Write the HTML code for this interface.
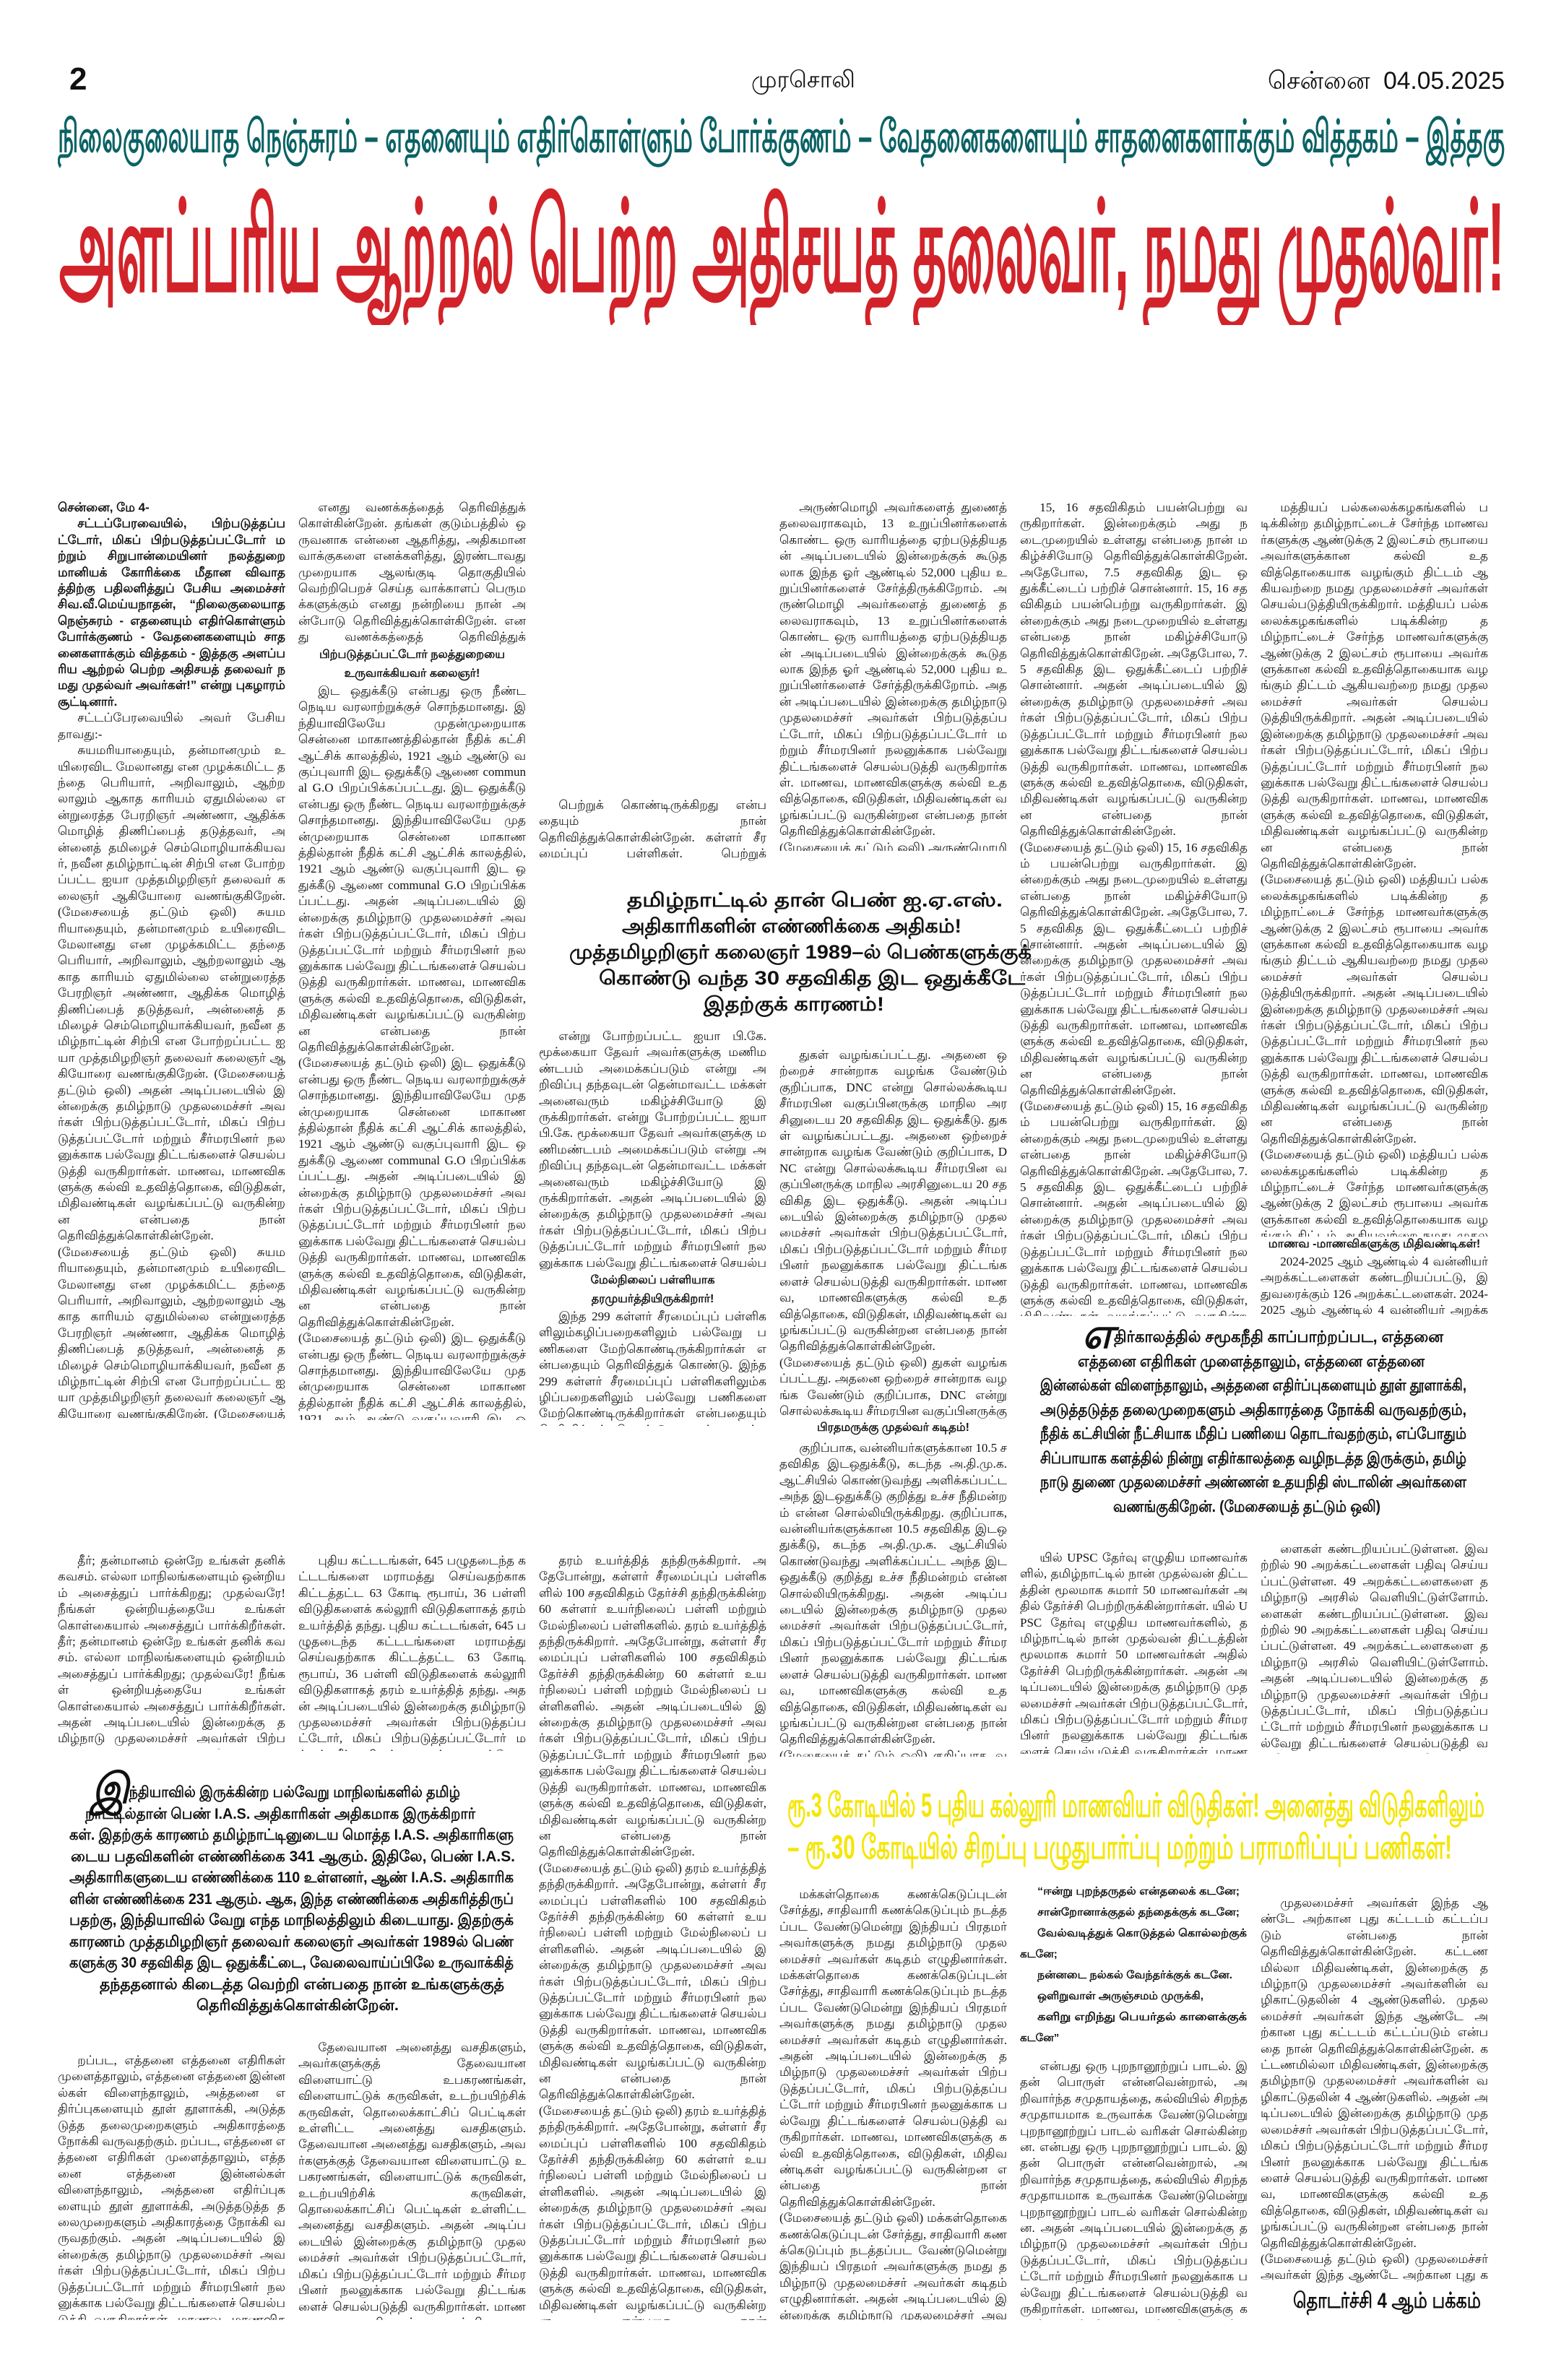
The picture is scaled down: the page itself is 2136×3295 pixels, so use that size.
<!DOCTYPE html>
<html><head><meta charset="utf-8">
<style>
html,body{margin:0;padding:0;background:#fff}
body{width:2136px;height:3295px;position:relative;overflow:hidden;font-family:"Liberation Sans","DejaVu Sans",sans-serif;color:#111}
.a{position:absolute}
.t{position:absolute;width:315px;overflow:hidden;font-size:17px;line-height:22.4px;text-align:justify;text-align-last:left;word-break:break-all;font-family:"Liberation Serif","DejaVu Serif",serif}
.t p{margin:0;text-indent:1.6em}
.b{font-weight:bold;font-family:"Liberation Sans",sans-serif}
.sh{position:absolute;width:315px;text-align:center;font-weight:bold;font-size:16px;line-height:26px;white-space:nowrap}
.fit{white-space:nowrap;transform-origin:left top;display:inline-block}
.box{position:absolute;text-align:center;font-weight:bold;font-size:22px}
.box div{white-space:nowrap}
.dc{font-size:58px;font-weight:bold;font-style:italic;vertical-align:-8px}
.pm div{white-space:nowrap;overflow:hidden}
</style></head><body>

<div class="a" style="left:96px;top:88px;font-size:44px;font-weight:bold;line-height:44px">2</div>
<div class="a" style="left:1040px;top:90px;font-size:32px;line-height:40px">முரசொலி</div>
<div class="a" style="left:1755px;top:92px;width:328px;font-size:34px;line-height:40px;text-align:right"><span class="fit" data-w="328">சென்னை&nbsp; 04.05.2025</span></div>

<div class="a" style="left:80px;top:150px;width:2003px;height:84px;overflow:hidden;color:#0b6265;font-weight:bold;font-size:62px;line-height:80px"><span class="fit" data-w="2003">நிலைகுலையாத நெஞ்சுரம் – எதனையும் எதிர்கொள்ளும் போர்க்குணம் – வேதனைகளையும் சாதனைகளாக்கும் வித்தகம் – இத்தகு</span></div>

<div class="a" style="left:82px;top:240px;width:2001px;height:210px;overflow:hidden;color:#d2232a;font-weight:bold;font-size:175px;line-height:205px"><span class="fit" data-w="2001">அளப்பரிய ஆற்றல் பெற்ற அதிசயத் தலைவர், நமது முதல்வர்!</span></div>

<!-- Section 1 -->
<div class="t" style="left:80px;top:692px;height:1272px">
<div class="b" style="text-align:right;font-size:17px">சென்னை, மே 4-</div>
<p class="b">சட்டப்பேரவையில், பிற்படுத்தப்பட்டோர், மிகப் பிற்படுத்தப்பட்டோர் மற்றும் சிறுபான்மையினர் நலத்துறை மானியக் கோரிக்கை மீதான விவாதத்திற்கு பதிலளித்துப் பேசிய அமைச்சர் சிவ.வீ.மெய்யநாதன், “நிலைகுலையாத நெஞ்சுரம் - எதனையும் எதிர்கொள்ளும் போர்க்குணம் - வேதனைகளையும் சாதனைகளாக்கும் வித்தகம் - இத்தகு அளப்பரிய ஆற்றல் பெற்ற அதிசயத் தலைவர் நமது முதல்வர் அவர்கள்!” என்று புகழாரம் சூட்டினார்.</p>
<p>சட்டப்பேரவையில் அவர் பேசியதாவது:-</p>
<p class="f">சுயமரியாதையும், தன்மானமும் உயிரைவிட மேலானது என முழக்கமிட்ட தந்தை பெரியார், அறிவாலும், ஆற்றலாலும் ஆகாத காரியம் ஏதுமில்லை என்றுரைத்த பேரறிஞர் அண்ணா, ஆதிக்க மொழித் திணிப்பைத் தடுத்தவர், அன்னைத் தமிழைச் செம்மொழியாக்கியவர், நவீன தமிழ்நாட்டின் சிற்பி என போற்றப்பட்ட ஐயா முத்தமிழறிஞர் தலைவர் கலைஞர் ஆகியோரை வணங்குகிறேன். (மேசையைத் தட்டும் ஒலி)</p>
</div>

<div class="t" style="left:413px;top:692px;height:204px"><p class="f">எனது வணக்கத்தைத் தெரிவித்துக் கொள்கின்றேன். தங்கள் குடும்பத்தில் ஒருவனாக என்னை ஆதரித்து, அதிகமான வாக்குகளை எனக்களித்து, இரண்டாவது முறையாக ஆலங்குடி தொகுதியில் வெற்றிபெறச் செய்த வாக்காளப் பெருமக்களுக்கும் எனது நன்றியை நான் அன்போடு தெரிவித்துக்கொள்கிறேன்.</p></div>
<div class="sh" style="left:413px;top:894px">பிற்படுத்தப்பட்டோர் நலத்துறையை<br>உருவாக்கியவர் கலைஞர்!</div>
<div class="t" style="left:413px;top:946px;height:1020px"><p class="f">இட ஒதுக்கீடு என்பது ஒரு நீண்ட நெடிய வரலாற்றுக்குச் சொந்தமானது. இந்தியாவிலேயே முதன்முறையாக சென்னை மாகாணத்தில்தான் நீதிக் கட்சி ஆட்சிக் காலத்தில், 1921 ஆம் ஆண்டு வகுப்புவாரி இட ஒதுக்கீடு ஆணை communal G.O பிறப்பிக்கப்பட்டது.</p></div>

<div class="t" style="left:746px;top:1104px;height:92px"><p class="f">பெற்றுக் கொண்டிருக்கிறது என்பதையும் நான் தெரிவித்துக்கொள்கின்றேன். கள்ளர் சீரமைப்புப் பள்ளிகள்.</p></div>
<div class="box" style="left:760px;top:1228px;width:650px;font-size:27px;line-height:36px">
<div><span class="fit" data-w="520">தமிழ்நாட்டில் தான் பெண் ஐ.ஏ.எஸ்.</span></div>
<div><span class="fit" data-w="470">அதிகாரிகளின் எண்ணிக்கை அதிகம்!</span></div>
<div><span class="fit" data-w="640">முத்தமிழறிஞர் கலைஞர் 1989–ல் பெண்களுக்குக்</span></div>
<div><span class="fit" data-w="590">கொண்டு வந்த 30 சதவிகித இட ஒதுக்கீடே</span></div>
<div><span class="fit" data-w="250">இதற்குக் காரணம்!</span></div>
</div>
<div class="t" style="left:746px;top:1424px;height:338px"><p class="f">என்று போற்றப்பட்ட ஐயா பி.கே. மூக்கையா தேவர் அவர்களுக்கு மணிமண்டபம் அமைக்கப்படும் என்று அறிவிப்பு தந்தவுடன் தென்மாவட்ட மக்கள் அனைவரும் மகிழ்ச்சியோடு இருக்கிறார்கள்.</p></div>
<div class="sh" style="left:746px;top:1760px">மேல்நிலைப் பள்ளியாக<br>தரமுயர்த்தியிருக்கிறார்!</div>
<div class="t" style="left:746px;top:1812px;height:162px"><p class="f">இந்த 299 கள்ளர் சீரமைப்புப் பள்ளிகளிலும்கழிப்பறைகளிலும் பல்வேறு பணிகளை மேற்கொண்டிருக்கிறார்கள் என்பதையும் தெரிவித்துக் கொண்டு.</p></div>

<div class="t" style="left:1079px;top:692px;height:486px"><p class="f">அருண்மொழி அவர்களைத் துணைத் தலைவராகவும், 13 உறுப்பினர்களைக் கொண்ட ஒரு வாரியத்தை ஏற்படுத்தியதன் அடிப்படையில் இன்றைக்குக் கூடுதலாக இந்த ஓர் ஆண்டில் 52,000 புதிய உறுப்பினர்களைச் சேர்த்திருக்கிறோம்.</p></div>
<div class="t" style="left:1079px;top:1450px;height:514px"><p class="f">துகள் வழங்கப்பட்டது. அதனை ஒற்றைச் சான்றாக வழங்க வேண்டும் குறிப்பாக, DNC என்று சொல்லக்கூடிய சீர்மரபின வகுப்பினருக்கு மாநில அரசினுடைய 20 சதவிகித இட ஒதுக்கீடு.</p></div>
<div class="sh" style="left:1079px;top:1964px">பிரதமருக்கு முதல்வர் கடிதம்!</div>
<div class="t" style="left:1079px;top:1994px;height:438px"><p class="f">குறிப்பாக, வன்னியர்களுக்கான 10.5 சதவிகித இடஒதுக்கீடு, கடந்த அ.தி.மு.க. ஆட்சியில் கொண்டுவந்து அளிக்கப்பட்ட அந்த இடஒதுக்கீடு குறித்து உச்ச நீதிமன்றம் என்ன சொல்லியிருக்கிறது.</p></div>

<div class="t" style="left:1412px;top:692px;height:1130px"><p class="f">15, 16 சதவிகிதம் பயன்பெற்று வருகிறார்கள். இன்றைக்கும் அது நடைமுறையில் உள்ளது என்பதை நான் மகிழ்ச்சியோடு தெரிவித்துக்கொள்கிறேன். அதேபோல, 7.5 சதவிகித இட ஒதுக்கீட்டைப் பற்றிச் சொன்னார்.</p></div>

<div class="t" style="left:1745px;top:692px;height:1020px"><p class="f">மத்தியப் பல்கலைக்கழகங்களில் படிக்கின்ற தமிழ்நாட்டைச் சேர்ந்த மாணவர்களுக்கு ஆண்டுக்கு 2 இலட்சம் ரூபாயை அவர்களுக்கான கல்வி உதவித்தொகையாக வழங்கும் திட்டம் ஆகியவற்றை நமது முதலமைச்சர் அவர்கள் செயல்படுத்தியிருக்கிறார்.</p></div>
<div class="sh" style="left:1745px;top:1710px">மாணவ -மாணவிகளுக்கு மிதிவண்டிகள்!</div>
<div class="t" style="left:1745px;top:1736px;height:88px"><p class="f">2024-2025 ஆம் ஆண்டில் 4 வன்னியர் அறக்கட்டளைகள் கண்டறியப்பட்டு, இதுவரைக்கும் 126 அறக்கட்டளைகள்.</p></div>

<div class="box" style="left:1440px;top:1830px;width:630px;line-height:33.5px;font-size:22px">
<div><span class="fit" data-w="500"><span class="dc">எ</span>திர்காலத்தில் சமூகநீதி காப்பாற்றப்பட, எத்தனை</span></div>
<div><span class="fit" data-w="480">எத்தனை எதிரிகள் முளைத்தாலும், எத்தனை எத்தனை</span></div>
<div><span class="fit" data-w="590">இன்னல்கள் விளைந்தாலும், அத்தனை எதிர்ப்புகளையும் தூள் தூளாக்கி,</span></div>
<div><span class="fit" data-w="590">அடுத்தடுத்த தலைமுறைகளும் அதிகாரத்தை நோக்கி வருவதற்கும்,</span></div>
<div><span class="fit" data-w="590">நீதிக் கட்சியின் நீட்சியாக மீதிப் பணியை தொடர்வதற்கும், எப்போதும்</span></div>
<div><span class="fit" data-w="590">சிப்பாயாக களத்தில் நின்று எதிர்காலத்தை வழிநடத்த இருக்கும், தமிழ்</span></div>
<div><span class="fit" data-w="590">நாடு துணை முதலமைச்சர் அண்ணன் உதயநிதி ஸ்டாலின் அவர்களை</span></div>
<div><span class="fit" data-w="370">வணங்குகிறேன். (மேசையைத் தட்டும் ஒலி)</span></div>
</div>

<!-- Section 2 -->
<div class="t" style="left:80px;top:2150px;height:272px"><p class="f">தீர்; தன்மானம் ஒன்றே உங்கள் தனிக் கவசம். எல்லா மாநிலங்களையும் ஒன்றியம் அசைத்துப் பார்க்கிறது; முதல்வரே! நீங்கள் ஒன்றியத்தையே உங்கள் கொள்கையால் அசைத்துப் பார்க்கிறீர்கள்.</p></div>
<div class="t" style="left:413px;top:2150px;height:274px"><p class="f">புதிய கட்டடங்கள், 645 பழுதடைந்த கட்டடங்களை மராமத்து செய்வதற்காக கிட்டத்தட்ட 63 கோடி ரூபாய், 36 பள்ளி விடுதிகளைக் கல்லூரி விடுதிகளாகத் தரம் உயர்த்தித் தந்து.</p></div>
<div class="t" style="left:746px;top:2150px;height:1062px"><p class="f">தரம் உயர்த்தித் தந்திருக்கிறார். அதேபோன்று, கள்ளர் சீரமைப்புப் பள்ளிகளில் 100 சதவிகிதம் தேர்ச்சி தந்திருக்கின்ற 60 கள்ளர் உயர்நிலைப் பள்ளி மற்றும் மேல்நிலைப் பள்ளிகளில்.</p></div>
<div class="t" style="left:1412px;top:2146px;height:282px"><p class="f">யில் UPSC தேர்வு எழுதிய மாணவர்களில், தமிழ்நாட்டில் நான் முதல்வன் திட்டத்தின் மூலமாக சுமார் 50 மாணவர்கள் அதில் தேர்ச்சி பெற்றிருக்கின்றார்கள்.</p></div>
<div class="t" style="left:1745px;top:2134px;height:294px"><p class="f">ளைகள் கண்டறியப்பட்டுள்ளன. இவற்றில் 90 அறக்கட்டளைகள் பதிவு செய்யப்பட்டுள்ளன. 49 அறக்கட்டளைகளை தமிழ்நாடு அரசில் வெளியிட்டுள்ளோம்.</p></div>

<div class="box" style="left:96px;top:2462px;width:620px;line-height:29.5px;font-size:21px">
<div><span class="fit" data-w="510"><span class="dc">இ</span>ந்தியாவில் இருக்கின்ற பல்வேறு மாநிலங்களில் தமிழ்</span></div>
<div><span class="fit" data-w="540">நாட்டில்தான் பெண் I.A.S. அதிகாரிகள் அதிகமாக இருக்கிறார்</span></div>
<div><span class="fit" data-w="615">கள். இதற்குக் காரணம் தமிழ்நாட்டினுடைய மொத்த I.A.S. அதிகாரிகளு</span></div>
<div><span class="fit" data-w="615">டைய பதவிகளின் எண்ணிக்கை 341 ஆகும். இதிலே, பெண் I.A.S.</span></div>
<div><span class="fit" data-w="615">அதிகாரிகளுடைய எண்ணிக்கை 110 உள்ளனர், ஆண் I.A.S. அதிகாரிக</span></div>
<div><span class="fit" data-w="615">ளின் எண்ணிக்கை 231 ஆகும். ஆக, இந்த எண்ணிக்கை அதிகரித்திருப்</span></div>
<div><span class="fit" data-w="615">பதற்கு, இந்தியாவில் வேறு எந்த மாநிலத்திலும் கிடையாது. இதற்குக்</span></div>
<div><span class="fit" data-w="615">காரணம் முத்தமிழறிஞர் தலைவர் கலைஞர் அவர்கள் 1989ல் பெண்</span></div>
<div><span class="fit" data-w="615">களுக்கு 30 சதவிகித இட ஒதுக்கீட்டை, வேலைவாய்ப்பிலே உருவாக்கித்</span></div>
<div><span class="fit" data-w="560">தந்ததனால் கிடைத்த வெற்றி என்பதை நான் உங்களுக்குத்</span></div>
<div><span class="fit" data-w="280">தெரிவித்துக்கொள்கின்றேன்.</span></div>
</div>

<div class="box" style="left:1090px;top:2470px;width:980px;color:#f5e600;font-size:46px;line-height:58px">
<div><span class="fit" data-w="965">ரூ.3 கோடியில் 5 புதிய கல்லூரி மாணவியர் விடுதிகள்! அனைத்து விடுதிகளிலும்</span></div>
<div><span class="fit" data-w="920">– ரூ.30 கோடியில் சிறப்பு பழுதுபார்ப்பு மற்றும் பராமரிப்புப் பணிகள்!</span></div>
</div>

<!-- Section 3 -->
<div class="t" style="left:80px;top:2842px;height:370px"><p class="f">றப்பட, எத்தனை எத்தனை எதிரிகள் முளைத்தாலும், எத்தனை எத்தனை இன்னல்கள் விளைந்தாலும், அத்தனை எதிர்ப்புகளையும் தூள் தூளாக்கி, அடுத்தடுத்த தலைமுறைகளும் அதிகாரத்தை நோக்கி வருவதற்கும்.</p></div>
<div class="t" style="left:413px;top:2824px;height:388px"><p class="f">தேவையான அனைத்து வசதிகளும், அவர்களுக்குத் தேவையான விளையாட்டு உபகரணங்கள், விளையாட்டுக் கருவிகள், உடற்பயிற்சிக் கருவிகள், தொலைக்காட்சிப் பெட்டிகள் உள்ளிட்ட அனைத்து வசதிகளும்.</p></div>
<div class="t" style="left:1079px;top:2612px;height:600px"><p class="f">மக்கள்தொகை கணக்கெடுப்புடன் சேர்த்து, சாதிவாரி கணக்கெடுப்பும் நடத்தப்பட வேண்டுமென்று இந்தியப் பிரதமர் அவர்களுக்கு நமது தமிழ்நாடு முதலமைச்சர் அவர்கள் கடிதம் எழுதினார்கள்.</p></div>
<div class="a b pm" style="left:1412px;top:2604px;width:315px;height:236px;overflow:hidden;font-size:15px;line-height:29px">
<div style="padding-left:24px"><span class="fit" data-w="280">“ஈன்று புறந்தருதல் என்தலைக் கடனே;</span></div>
<div style="padding-left:24px"><span class="fit" data-w="280">சான்றோனாக்குதல் தந்தைக்குக் கடனே;</span></div>
<div style="padding-left:24px"><span class="fit" data-w="290">வேல்வடித்துக் கொடுத்தல் கொல்லற்குக்</span></div>
<div>கடனே;</div>
<div style="padding-left:24px"><span class="fit" data-w="270">நன்னடை நல்கல் வேந்தர்க்குக் கடனே.</span></div>
<div style="padding-left:24px"><span class="fit" data-w="230">ஒளிறுவாள் அருஞ்சமம் முருக்கி,</span></div>
<div style="padding-left:24px"><span class="fit" data-w="290">களிறு எறிந்து பெயர்தல் காளைக்குக்</span></div>
<div>கடனே”</div>
</div>
<div class="t" style="left:1412px;top:2850px;height:362px"><p class="f">என்பது ஒரு புறநானூற்றுப் பாடல். இதன் பொருள் என்னவென்றால், அறிவார்ந்த சமுதாயத்தை, கல்வியில் சிறந்த சமுதாயமாக உருவாக்க வேண்டுமென்று புறநானூற்றுப் பாடல் வரிகள் சொல்கின்றன.</p></div>
<div class="t" style="left:1745px;top:2624px;height:538px"><p class="f">முதலமைச்சர் அவர்கள் இந்த ஆண்டே அற்கான புது கட்டடம் கட்டப்படும் என்பதை நான் தெரிவித்துக்கொள்கின்றேன். கட்டணமில்லா மிதிவண்டிகள், இன்றைக்கு தமிழ்நாடு முதலமைச்சர் அவர்களின் வழிகாட்டுதலின் 4 ஆண்டுகளில்.</p></div>
<div class="a" style="left:1790px;top:3166px;width:270px;height:40px;overflow:hidden;font-weight:bold;font-size:30px;line-height:40px;text-align:center"><span class="fit" data-w="260">தொடர்ச்சி 4 ஆம் பக்கம்</span></div>

<script>
(function(){
var fill=" அதன் அடிப்படையில் இன்றைக்கு தமிழ்நாடு முதலமைச்சர் அவர்கள் பிற்படுத்தப்பட்டோர், மிகப் பிற்படுத்தப்பட்டோர் மற்றும் சீர்மரபினர் நலனுக்காக பல்வேறு திட்டங்களைச் செயல்படுத்தி வருகிறார்கள். மாணவ, மாணவிகளுக்கு கல்வி உதவித்தொகை, விடுதிகள், மிதிவண்டிகள் வழங்கப்பட்டு வருகின்றன என்பதை நான் தெரிவித்துக்கொள்கின்றேன். (மேசையைத் தட்டும் ஒலி)";
var ps=document.querySelectorAll('p.f');
for(var i=0;i<ps.length;i++){var p=ps[i],box=p.parentNode,base=p.textContent,s=base,k=0;p.textContent=s;
while(p.offsetTop+p.offsetHeight<box.clientHeight+30&&k<30){s+=(k%2?fill:" "+base);p.textContent=s;k++;}}
var fs=document.querySelectorAll('.fit');
for(var j=0;j<fs.length;j++){var e=fs[j],w=+e.getAttribute('data-w'),r=e.getBoundingClientRect().width;if(r>0){e.style.transform='scaleX('+(w/r)+')';}}
})();
</script>
</body></html>
